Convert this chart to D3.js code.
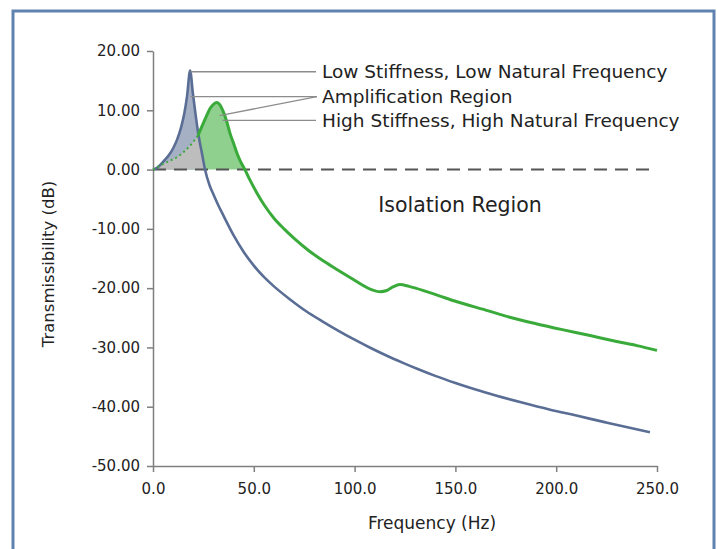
<!DOCTYPE html>
<html>
<head>
<meta charset="utf-8">
<script src="https://cdn.jsdelivr.net/npm/d3@7"></script>
<style>
  body { margin: 0; background: #fff; }
  svg text { font-family: 'DejaVu Sans', sans-serif; fill: #222; }
  .axis path, .axis line { stroke: #7f7f7f; stroke-width: 1.5; }
  .axis text { font-size: 15px; fill: #222; }
</style>
</head>
<body>
<div id="chart"></div>
<script>
var svgWidth = 717;
var svgHeight = 549;

// low stiffness, low natural frequency (Hz, dB)
var lowFreq = [0, 2, 5, 8, 10, 12, 14, 15.5, 16.9, 18.4, 19.8, 21, 22, 23, 24.3, 25.8,
    28, 30, 32.5, 35, 40, 45, 50, 55, 60, 68, 76, 84, 92, 100, 108, 116, 124, 131, 140,
    150, 160, 170, 183, 197, 210, 224, 237, 246.5];
var lowDb = [0, 0.3, 1.3, 2.5, 3.6, 5.1, 7.2, 9.4, 12.4, 16.7, 12.8, 9.6, 7.1, 5.0, 2.7, 0,
    -2.6, -4.2, -6.1, -7.8, -11.1, -13.9, -16.2, -18.1, -19.7, -21.9, -23.9, -25.6, -27.2,
    -28.7, -30.1, -31.4, -32.6, -33.6, -34.8, -36.0, -37.1, -38.1, -39.3, -40.5, -41.5,
    -42.6, -43.6, -44.3];

// high stiffness, high natural frequency (Hz, dB)
var highFreq = [0, 3, 8.4, 12, 15, 19.8, 22.3, 24.8, 26.5, 28.3, 30, 31.6, 33, 34.7, 36.5,
    38.2, 40, 41.7, 43.5, 45.6, 48, 51.6, 55, 60, 65, 70, 77, 84, 91, 97.7, 103, 108,
    112.6, 116, 119, 122.5, 127, 135, 142, 150.8, 165, 177, 190, 203, 216.8, 230, 240, 250];
var highDb = [0, 0.6, 1.5, 2.1, 2.9, 4.6, 5.7, 7.7, 9.0, 10.3, 11.0, 11.3, 11.0, 9.9, 8.2,
    6.1, 4.4, 2.7, 1.3, 0, -1.7, -4.0, -5.9, -8.2, -10.0, -11.6, -13.6, -15.3, -16.8, -18.2,
    -19.3, -20.2, -20.6, -20.4, -19.8, -19.4, -19.7, -20.5, -21.3, -22.3, -23.7, -24.9, -26.0,
    -27.0, -28.0, -29.0, -29.7, -30.5];
// green is dotted while it sits under the blue peak
var highDottedEnd = 6;

var xTicks = [0, 50, 100, 150, 200, 250];
var yTicks = [20, 10, 0, -10, -20, -30, -40, -50];

var labelLow = 'Low Stiffness, Low Natural Frequency';
var labelAmp = 'Amplification Region';
var labelHigh = 'High Stiffness, High Natural Frequency';
var labelIso = 'Isolation Region';

var lowData = lowFreq.map((f, i) => ({f: f, v: lowDb[i]}));
var highData = highFreq.map((f, i) => ({f: f, v: highDb[i]}));

var svg = d3.select('#chart').append('svg')
    .attr('width', svgWidth)
    .attr('height', svgHeight);

// frame
svg.append('rect')
    .attr('x', 13).attr('y', 11)
    .attr('width', 701).attr('height', 560)
    .attr('fill', 'none')
    .attr('stroke', '#5f83ae')
    .attr('stroke-width', 3);

var x = d3.scaleLinear().domain([0, 250]).range([153, 657]);
var y = d3.scaleLinear().domain([-50, 20]).range([466, 51]);

var area = d3.area()
    .x(d => x(d.f))
    .y0(y(0))
    .y1(d => y(d.v))
    .curve(d3.curveMonotoneX);
var line = d3.line()
    .x(d => x(d.f))
    .y(d => y(d.v))
    .curve(d3.curveMonotoneX);

var lowPos = lowData.filter(d => d.v >= 0);
var highPos = highData.filter(d => d.v >= 0);

svg.append('clipPath').attr('id', 'lowClip')
    .append('path').attr('d', area(lowPos));

svg.append('path').attr('d', area(highPos)).attr('fill', '#8fd08f');
svg.append('path').attr('d', area(lowPos)).attr('fill', '#a6b0c4');
svg.append('path').attr('d', area(highPos)).attr('fill', '#bdbdbd')
    .attr('clip-path', 'url(#lowClip)');

// plain hyphen for negatives, like the original
var fmtY = d => d3.format('.2f')(d).replace('\u2212', '-');

var xAxis = svg.append('g')
    .attr('class', 'axis')
    .attr('transform', `translate(0, ${y(-50)})`)
    .call(d3.axisBottom(x).tickValues(xTicks).tickFormat(d3.format('.1f'))
        .tickSize(6).tickSizeOuter(0).tickPadding(11));
var yAxis = svg.append('g')
    .attr('class', 'axis')
    .attr('transform', `translate(${x(0)}, 0)`)
    .call(d3.axisLeft(y).tickValues(yTicks).tickFormat(fmtY)
        .tickSize(6).tickSizeOuter(0).tickPadding(7));

// zero line
svg.append('line')
    .attr('x1', x(0)).attr('x2', x(250))
    .attr('y1', y(0)).attr('y2', y(0))
    .attr('stroke', '#555')
    .attr('stroke-width', 2)
    .attr('stroke-dasharray', '13,8');

// curves
svg.append('path').attr('d', line(lowData))
    .attr('fill', 'none').attr('stroke', '#5a6e95').attr('stroke-width', 2.6);
svg.append('path').attr('d', line(highData.slice(0, highDottedEnd + 1)))
    .attr('fill', 'none').attr('stroke', '#3aab3a').attr('stroke-width', 2)
    .attr('stroke-dasharray', '2,3');
svg.append('path').attr('d', line(highData.slice(highDottedEnd)))
    .attr('fill', 'none').attr('stroke', '#3aab3a').attr('stroke-width', 3);

// leader lines
var textX = 322;
var leaders = [
    [x(18.6), y(16.5), 316, y(16.5)],
    [x(18.6), y(12.3), 317, y(12.3)],
    [x(33), y(9.1), 317, y(12.3)],
    [x(34.5), y(8.3), 316, y(8.3)]
];
svg.selectAll('.leader')
    .data(leaders)
    .enter()
    .append('line')
    .attr('x1', d => d[0]).attr('y1', d => d[1])
    .attr('x2', d => d[2]).attr('y2', d => d[3])
    .attr('stroke', '#8c8c8c')
    .attr('stroke-width', 1.3);

svg.selectAll('.ann')
    .data([[labelLow, 16.5], [labelAmp, 12.3], [labelHigh, 8.3]])
    .enter()
    .append('text')
    .attr('x', textX)
    .attr('y', d => y(d[1]))
    .attr('dy', '0.35em')
    .attr('font-size', '18.5px')
    .text(d => d[0]);

svg.append('text')
    .attr('x', 460).attr('y', y(-6))
    .attr('dy', '0.35em')
    .attr('text-anchor', 'middle')
    .attr('font-size', '20.5px')
    .text(labelIso);

// axis titles
svg.append('text')
    .attr('x', 432).attr('y', 523)
    .attr('dy', '0.35em')
    .attr('text-anchor', 'middle')
    .attr('font-size', '17px')
    .text('Frequency (Hz)');
svg.append('text')
    .attr('transform', 'translate(48, 264) rotate(-90)')
    .attr('dy', '0.35em')
    .attr('text-anchor', 'middle')
    .attr('font-size', '16.5px')
    .text('Transmissibility (dB)');
</script>
</body>
</html>
